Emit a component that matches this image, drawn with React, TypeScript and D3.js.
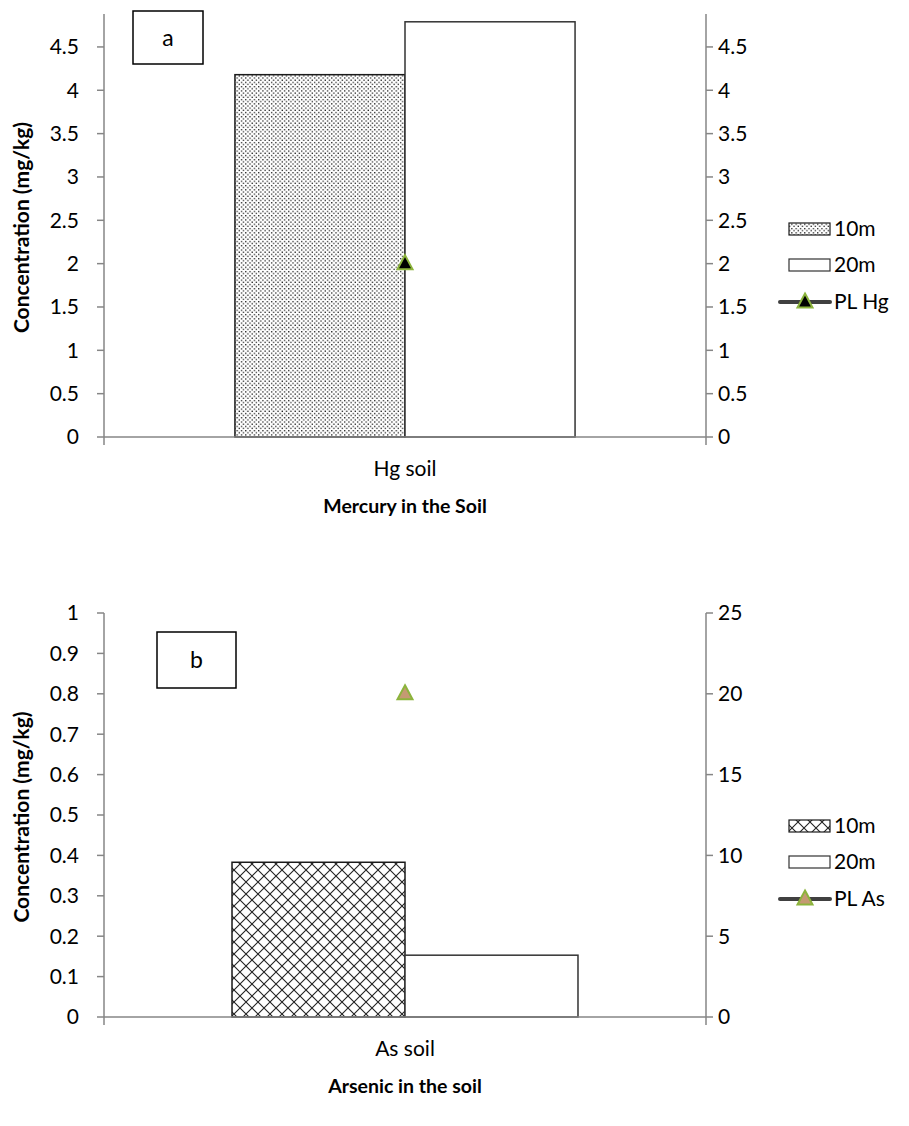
import * as d3 from "d3"

const categoriesA = ["Hg soil"]
const categoriesB = ["As soil"]
const seriesNames = ["10m", "20m"]
const hg10m = [4.18]
const hg20m = [4.79]
const plHg = [2]
const as10m = [0.383]
const as20m = [0.153]
const plAs = [20]
const ticksA = [0, 0.5, 1, 1.5, 2, 2.5, 3, 3.5, 4, 4.5]
const ticksBLeft = [0, 0.1, 0.2, 0.3, 0.4, 0.5, 0.6, 0.7, 0.8, 0.9, 1]
const ticksBRight = [0, 5, 10, 15, 20, 25]

const FONT = "Lato, 'Open Sans', sans-serif"
const AXIS = "#868686"
const X0 = 104
const X1 = 706

type PanelProps = {
  cats: string[]
  s10: number[]
  s20: number[]
  pl: number[]
  plName: string
  left: d3.ScaleLinear<number, number>
  right: d3.ScaleLinear<number, number>
  leftTicks: number[]
  rightTicks: number[]
  plOnRight: boolean
  pattern: string
  letter: string
  box: [number, number, number, number]
  title: string
  outer: number
  markerFill: string
  legY: number
}

const Triangle = ({ x, y, fill }: { x: number; y: number; fill: string }) => (
  <path
    d={`M${x},${y - 8.5} L${x + 7.5},${y + 5.5} L${x - 7.5},${y + 5.5} Z`}
    fill={fill}
    stroke="#8cb43c"
    strokeWidth={2}
  />
)

const Panel = (p: PanelProps) => {
  const y0 = p.left.range()[0]
  const yTop = p.left.range()[1]
  const x = d3.scaleBand().domain(p.cats).range([X0, X1]).paddingInner(0).paddingOuter(p.outer)
  const xs = d3.scaleBand().domain(seriesNames).range([0, x.bandwidth()])
  const plScale = p.plOnRight ? p.right : p.left
  const legY = p.legY
  return (
    <g>
      {p.cats.map((c, i) => (
        <g key={c}>
          <rect
            x={x(c)! + xs("10m")!}
            y={p.left(p.s10[i])}
            width={xs.bandwidth()}
            height={y0 - p.left(p.s10[i])}
            fill={`url(#${p.pattern})`}
            stroke="#1a1a1a"
            strokeWidth={1.5}
          />
          <rect
            x={x(c)! + xs("20m")!}
            y={p.left(p.s20[i])}
            width={xs.bandwidth()}
            height={y0 - p.left(p.s20[i])}
            fill="#fff"
            stroke="#333"
            strokeWidth={1.5}
          />
        </g>
      ))}
      <line x1={X0} x2={X0} y1={yTop} y2={y0} stroke={AXIS} strokeWidth={1.5} />
      <line x1={X1} x2={X1} y1={yTop} y2={y0} stroke={AXIS} strokeWidth={1.5} />
      <line x1={X0} x2={X1} y1={y0} y2={y0} stroke={AXIS} strokeWidth={1.5} />
      <line x1={X0} x2={X0} y1={y0} y2={y0 + 8} stroke={AXIS} strokeWidth={1.5} />
      <line x1={X1} x2={X1} y1={y0} y2={y0 + 8} stroke={AXIS} strokeWidth={1.5} />
      {p.leftTicks.map((t) => (
        <g key={"l" + t}>
          <line x1={X0 - 7} x2={X0} y1={p.left(t)} y2={p.left(t)} stroke={AXIS} strokeWidth={1.5} />
          <text x={X0 - 25} y={p.left(t)} dy="0.35em" textAnchor="end" fontSize={21} fontFamily={FONT} fill="#000">
            {String(t)}
          </text>
        </g>
      ))}
      {p.rightTicks.map((t) => (
        <g key={"r" + t}>
          <line x1={X1} x2={X1 + 7} y1={p.right(t)} y2={p.right(t)} stroke={AXIS} strokeWidth={1.5} />
          <text x={X1 + 12} y={p.right(t)} dy="0.35em" textAnchor="start" fontSize={21} fontFamily={FONT} fill="#000">
            {String(t)}
          </text>
        </g>
      ))}
      {p.cats.map((c) => (
        <text key={c} x={x(c)! + x.bandwidth() / 2} y={y0 + 39} textAnchor="middle" fontSize={21} fontFamily={FONT}>
          {c}
        </text>
      ))}
      <text x={(X0 + X1) / 2} y={y0 + 76} textAnchor="middle" fontSize={19.5} fontWeight="bold" fontFamily={FONT}>
        {p.title}
      </text>
      <text
        transform={`translate(29,${(yTop + y0) / 2 + 2}) rotate(-90)`}
        textAnchor="middle"
        fontSize={21}
        fontWeight="bold"
        fontFamily={FONT}
      >
        Concentration (mg/kg)
      </text>
      {p.cats.map((c, i) => (
        <Triangle key={c} x={x(c)! + x.bandwidth() / 2} y={plScale(p.pl[i])} fill={p.markerFill} />
      ))}
      <rect x={p.box[0]} y={p.box[1]} width={p.box[2]} height={p.box[3]} fill="#fff" stroke="#000" strokeWidth={1.5} />
      <text
        x={p.box[0] + p.box[2] / 2}
        y={p.box[1] + p.box[3] / 2}
        dy="0.35em"
        textAnchor="middle"
        fontSize={23}
        fontFamily={FONT}
      >
        {p.letter}
      </text>
      <g>
        <rect x={789} y={legY - 36 - 6} width={41} height={12} fill={`url(#${p.pattern})`} stroke="#1a1a1a" strokeWidth={1.2} />
        <text x={834} y={legY - 36} dy="0.35em" fontSize={21} fontFamily={FONT}>10m</text>
        <rect x={789} y={legY - 6} width={41} height={12} fill="#fff" stroke="#333" strokeWidth={1.2} />
        <text x={834} y={legY} dy="0.35em" fontSize={21} fontFamily={FONT}>20m</text>
        <line x1={780} x2={830} y1={legY + 37} y2={legY + 37} stroke="#404040" strokeWidth={4} strokeLinecap="round" />
        <Triangle x={805} y={legY + 37} fill={p.markerFill} />
        <text x={834} y={legY + 37} dy="0.35em" fontSize={21} fontFamily={FONT}>{p.plName}</text>
      </g>
    </g>
  )
}

export default function App() {
  const leftA = d3.scaleLinear().domain([0, 4.88]).range([437, 14])
  const leftB = d3.scaleLinear().domain([0, 1]).range([1017, 613])
  const rightB = d3.scaleLinear().domain([0, 25]).range([1017, 613])
  return (
    <svg width={909} height={1126} style={{ position: "absolute", left: 0, top: 0, background: "#fff" }}>
      <defs>
        <pattern id="dots" width={4.3} height={4.3} patternUnits="userSpaceOnUse">
          <rect width={4.3} height={4.3} fill="#fff" />
          <rect x={0} y={0} width={1.3} height={1.3} fill="#222" />
          <rect x={2.15} y={2.15} width={1.3} height={1.3} fill="#222" />
        </pattern>
        <pattern id="cross" width={12} height={12} patternUnits="userSpaceOnUse">
          <rect width={12} height={12} fill="#fff" />
          <path d="M0,0 L12,12 M12,0 L0,12" stroke="#222" strokeWidth={1.1} />
        </pattern>
      </defs>
      <rect width={909} height={1126} fill="#fff" />
      <Panel
        cats={categoriesA}
        s10={hg10m}
        s20={hg20m}
        pl={plHg}
        plName="PL Hg"
        left={leftA}
        right={leftA}
        leftTicks={ticksA}
        rightTicks={ticksA}
        plOnRight={false}
        pattern="dots"
        letter="a"
        box={[133, 11, 70, 53]}
        title="Mercury in the Soil"
        outer={0.385}
        markerFill="#000"
        legY={265}
      />
      <Panel
        cats={categoriesB}
        s10={as10m}
        s20={as20m}
        pl={plAs}
        plName="PL As"
        left={leftB}
        right={rightB}
        leftTicks={ticksBLeft}
        rightTicks={ticksBRight}
        plOnRight={true}
        pattern="cross"
        letter="b"
        box={[157, 632, 79, 56]}
        title="Arsenic in the soil"
        outer={0.37}
        markerFill="#c49a72"
        legY={862}
      />
    </svg>
  )
}
